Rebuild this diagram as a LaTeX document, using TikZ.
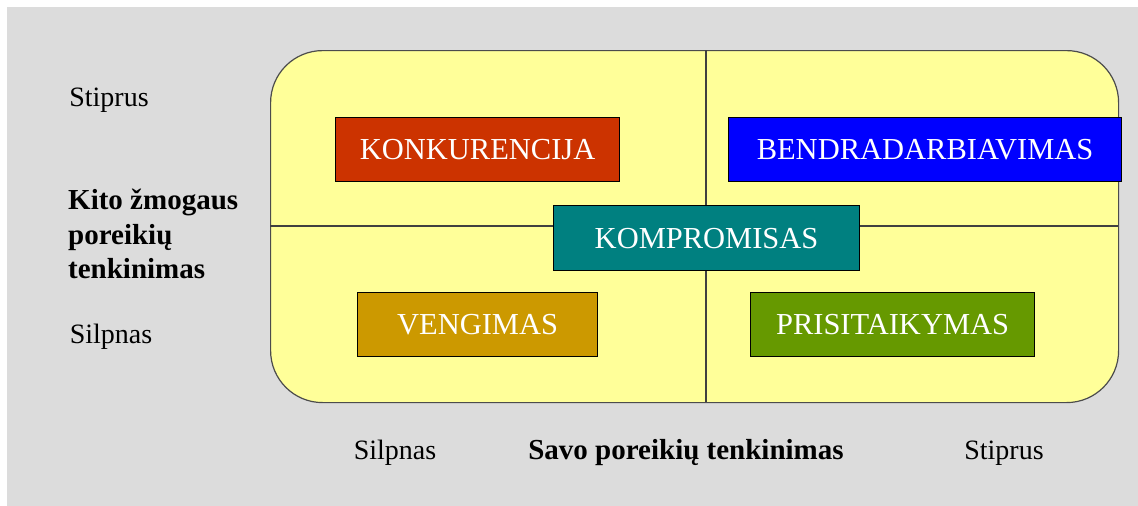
\documentclass[tikz,border=0pt]{standalone}
\usepackage{fontspec}
\setmainfont{Liberation Serif}
\definecolor{bggray}{HTML}{DCDCDC}
\definecolor{paleyellow}{HTML}{FFFF99}
\definecolor{konk}{HTML}{CC3300}
\definecolor{bendr}{HTML}{0000FF}
\definecolor{kompr}{HTML}{008080}
\definecolor{veng}{HTML}{CC9900}
\definecolor{prisi}{HTML}{669900}
\begin{document}
\begin{tikzpicture}[x=1pt,y=-1pt,
  stylebox/.style={draw=black, line width=1.2pt, anchor=north west, inner sep=0pt,
    font=\fontsize{30.5}{33}\selectfont, text=white},
  axislabel/.style={font=\fontsize{28}{34}\selectfont, text=black},
  boldlabel/.style={font=\fontsize{29}{34.5}\selectfont\bfseries, text=black}]
\useasboundingbox (0,0) rectangle (1138,506);
\fill[white] (0,0) rectangle (1138,506);
\fill[bggray] (7,7) rectangle (1138,506);
% main rounded area
\node[draw=black!70, line width=1.2pt, fill=paleyellow, rounded corners=52pt,
  minimum width=848pt, minimum height=352pt, anchor=north west, inner sep=0pt]
  (area) at (270,50) {};
\coordinate (vtop) at (706,50);
\coordinate (vbot) at (706,402);
\coordinate (hleft) at (270,226);
\coordinate (hright) at (1118,226);
\draw[black!75, line width=1.2pt] (vtop) -- (vbot);
\draw[black!75, line width=1.2pt] (hleft) -- (hright);
% style boxes
\node[stylebox, fill=konk, minimum width=284pt, minimum height=64pt] (konk) at (335,117) {KONKURENCIJA};
\node[stylebox, fill=bendr, minimum width=393pt, minimum height=64pt] (bendr) at (728,117) {BENDRADARBIAVIMAS};
\node[stylebox, fill=kompr, minimum width=306pt, minimum height=65pt] (kompr) at (553,205) {KOMPROMISAS};
\node[stylebox, fill=veng, minimum width=240pt, minimum height=64pt] (veng) at (357,292) {VENGIMAS};
\node[stylebox, fill=prisi, minimum width=284pt, minimum height=64pt] (prisi) at (750,292) {PRISITAIKYMAS};
% axis labels
\node[axislabel] (ystrong) at (109,100) {Stiprus};
\node[boldlabel, align=left, anchor=west, inner sep=0pt] (ytitle) at (68,234) {Kito žmogaus\\poreikių\\tenkinimas};
\node[axislabel] (yweak) at (111,337) {Silpnas};
\node[axislabel] (xweak) at (395,453) {Silpnas};
\node[boldlabel] (xtitle) at (686,453) {Savo poreikių tenkinimas};
\node[axislabel] (xstrong) at (1004,453) {Stiprus};
\end{tikzpicture}
\end{document}
